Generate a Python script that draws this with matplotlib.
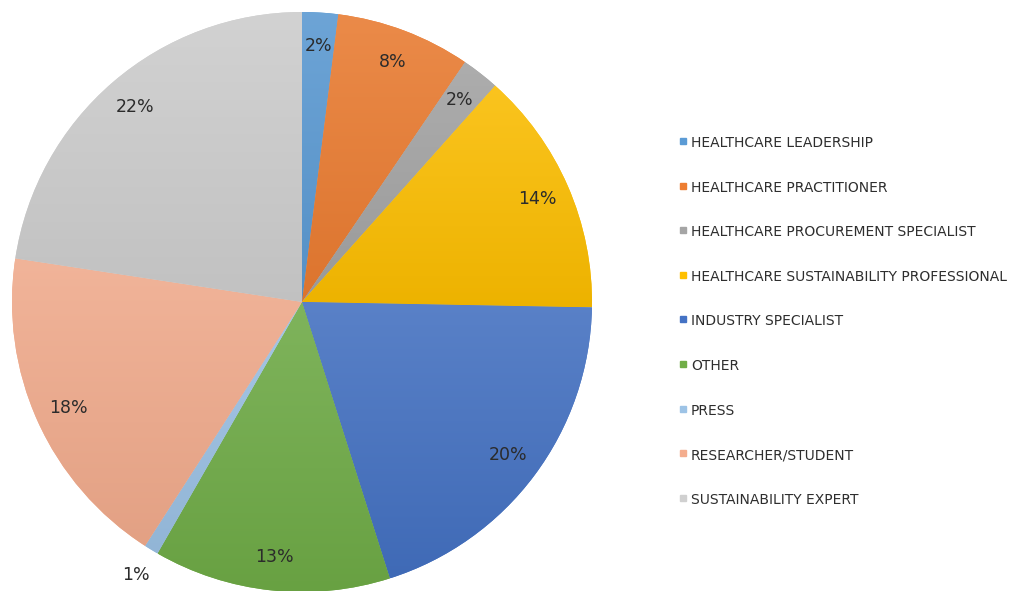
import numpy as np
import matplotlib
matplotlib.use("Agg")
import matplotlib.pyplot as plt
from matplotlib.colors import to_rgb
from matplotlib.patches import Rectangle

categories = ["HEALTHCARE LEADERSHIP", "HEALTHCARE PRACTITIONER",
              "HEALTHCARE PROCUREMENT SPECIALIST",
              "HEALTHCARE SUSTAINABILITY PROFESSIONAL", "INDUSTRY SPECIALIST",
              "OTHER", "PRESS", "RESEARCHER/STUDENT", "SUSTAINABILITY EXPERT"]
values = [2.0, 7.5, 2.1, 13.7, 19.8, 13.2, 0.8, 18.3, 22.6]
pct_labels = ["2%", "8%", "2%", "14%", "20%", "13%", "1%", "18%", "22%"]
colors = ["#5B9BD5", "#ED7D31", "#A5A5A5", "#FFC000", "#4472C4",
          "#70AD47", "#9DC3E6", "#F4AD8E", "#D0D0D0"]

W, H = 1009, 591
fig = plt.figure(figsize=(W / 100, H / 100), dpi=100)
cx, cy, r = 302, 302, 290
ax = fig.add_axes([(cx - r) / W, (H - cy - r) / H, 2 * r / W, 2 * r / H])

wedges, _ = ax.pie(values, colors=colors, startangle=90, counterclock=False,
                   radius=1.0, wedgeprops=dict(linewidth=0))

# gradient fill per wedge (lighter top, darker bottom)
for w, c in zip(wedges, colors):
    base = np.array(to_rgb(c))
    light = base * 0.98 + (1 - base * 0.98) * 0.12
    dark = base * 0.93
    ext = w.get_path().get_extents(w.get_patch_transform())
    t = np.linspace(0, 1, 256)[:, None]
    img = light[None, :] * (1 - t) + dark[None, :] * t
    img = img[:, None, :]
    im = ax.imshow(img, extent=[ext.x0, ext.x1, ext.y0, ext.y1], origin="upper",
                   aspect="auto", zorder=w.get_zorder(), interpolation="bilinear")
    im.set_clip_path(w)

ax.set_xlim(-1, 1)
ax.set_ylim(-1, 1)
ax.set_aspect("equal")
ax.axis("off")

# percentage labels
for w, lab, v in zip(wedges, pct_labels, values):
    ang = np.deg2rad((w.theta1 + w.theta2) / 2)
    d = 1.1 if v < 1.5 else 0.885
    ax.text(d * np.cos(ang), d * np.sin(ang), lab, ha="center", va="center",
            fontsize=12.5, color="#2b2b2b", family="DejaVu Sans")

# legend
y_start, dy = 143, 44.6
for i, (cat, c) in enumerate(zip(categories, colors)):
    y = y_start + i * dy
    fig.patches.append(Rectangle((680 / W, (H - y - 1) / H), 6 / W, 6 / H,
                                 transform=fig.transFigure, color=c))
    fig.text(691 / W, (H - y) / H, cat, ha="left", va="center",
             fontsize=10, color="#2e2e2e", family="DejaVu Sans")

fig.savefig("out.png", dpi=100, facecolor="white")
